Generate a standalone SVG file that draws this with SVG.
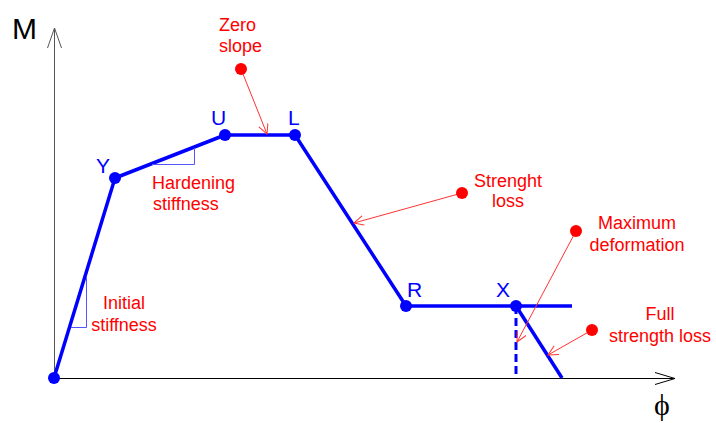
<svg xmlns="http://www.w3.org/2000/svg" width="716" height="423" viewBox="0 0 716 423">
<defs>
<style>
.axis{stroke:#000;stroke-width:1;fill:none}
.axisv{stroke:#555;stroke-width:1;fill:none}
.curve{stroke:#0000ff;stroke-width:3.5;fill:none;stroke-linejoin:round}
.dash{stroke:#0000ff;stroke-width:3;fill:none;stroke-dasharray:8 4}
.tri{stroke:#5555ff;stroke-width:1;fill:none}
.pt{fill:#0000ff}
.rdot{fill:#ff0000}
.lead{stroke:#ff3333;stroke-width:1;fill:none}
.lbl{font-family:"Liberation Sans",Arial,sans-serif;font-size:21px;fill:#0000ff}
.note{font-family:"Liberation Sans",Arial,sans-serif;font-size:18px;fill:#ff0000}
</style>
<marker id="openArrow" markerWidth="12" markerHeight="12" refX="10" refY="5" orient="auto" markerUnits="userSpaceOnUse">
<path d="M0,0 L10,5 L0,10" fill="none" stroke="#ff3333" stroke-width="1"/>
</marker>
</defs>
<rect width="716" height="423" fill="#fff"/>
<g id="axes">
<line class="axisv" x1="54.5" y1="378" x2="54.5" y2="28"/>
<path class="axisv" d="M47.5,48 L54.5,28 L61.5,48"/>
<line class="axis" x1="54" y1="378.5" x2="675" y2="378.5"/>
<path class="axis" d="M655,372.5 L675,378.5 L655,384.5"/>
<text x="12" y="39" font-family="'Liberation Sans',Arial,sans-serif" font-size="30" fill="#000">M</text>
<text x="654" y="415" font-family="'Liberation Serif','Times New Roman',serif" font-size="30" fill="#000">ϕ</text>
</g>
<g id="connectors">
<polyline class="curve" points="54,378 115,178 225,135 295,135 406,306 572,306"/>
<line class="curve" x1="516" y1="306" x2="562" y2="378"/>
<line class="dash" x1="516" y1="306" x2="516" y2="378"/>
<path class="tri" d="M86.5,277 L86.5,327.5 L71,327.5"/>
<path class="tri" d="M194.5,148 L194.5,164.5 L152,164.5"/>
<line class="lead" x1="241" y1="69" x2="267" y2="134" marker-end="url(#openArrow)"/>
<line class="lead" x1="462" y1="193" x2="354" y2="223" marker-end="url(#openArrow)"/>
<line class="lead" x1="576" y1="231" x2="517" y2="342" marker-end="url(#openArrow)"/>
<line class="lead" x1="592" y1="330" x2="548" y2="355" marker-end="url(#openArrow)"/>
</g>
<g id="node-O"><circle class="pt" cx="54" cy="378" r="6"/></g>
<g id="node-Y"><circle class="pt" cx="115" cy="178" r="6"/><text class="lbl" x="96" y="173">Y</text></g>
<g id="node-U"><circle class="pt" cx="225" cy="135" r="6"/><text class="lbl" x="211" y="125">U</text></g>
<g id="node-L"><circle class="pt" cx="295" cy="135" r="6"/><text class="lbl" x="288" y="125">L</text></g>
<g id="node-R"><circle class="pt" cx="406" cy="306" r="6"/><text class="lbl" x="407" y="297">R</text></g>
<g id="node-X"><circle class="pt" cx="516" cy="306" r="6"/><text class="lbl" x="496" y="297">X</text></g>
<g id="note-zero"><circle class="rdot" cx="241" cy="69" r="6"/><text class="note" x="219" y="31">Zero</text><text class="note" x="219" y="52">slope</text></g>
<g id="note-hardening"><text class="note" x="152" y="189">Hardening</text><text class="note" x="153" y="210">stiffness</text></g>
<g id="note-initial"><text class="note" text-anchor="middle" x="124" y="309">Initial</text><text class="note" text-anchor="middle" x="124" y="331">stiffness</text></g>
<g id="note-strength"><circle class="rdot" cx="462" cy="193" r="6"/><text class="note" text-anchor="middle" x="508" y="187">Strenght</text><text class="note" text-anchor="middle" x="508" y="207">loss</text></g>
<g id="note-max"><circle class="rdot" cx="576" cy="231" r="6"/><text class="note" text-anchor="middle" x="637" y="229">Maximum</text><text class="note" text-anchor="middle" x="637" y="251">deformation</text></g>
<g id="note-full"><circle class="rdot" cx="592" cy="330" r="6"/><text class="note" text-anchor="middle" x="660" y="320">Full</text><text class="note" text-anchor="middle" x="660" y="342">strength loss</text></g>
</svg>
